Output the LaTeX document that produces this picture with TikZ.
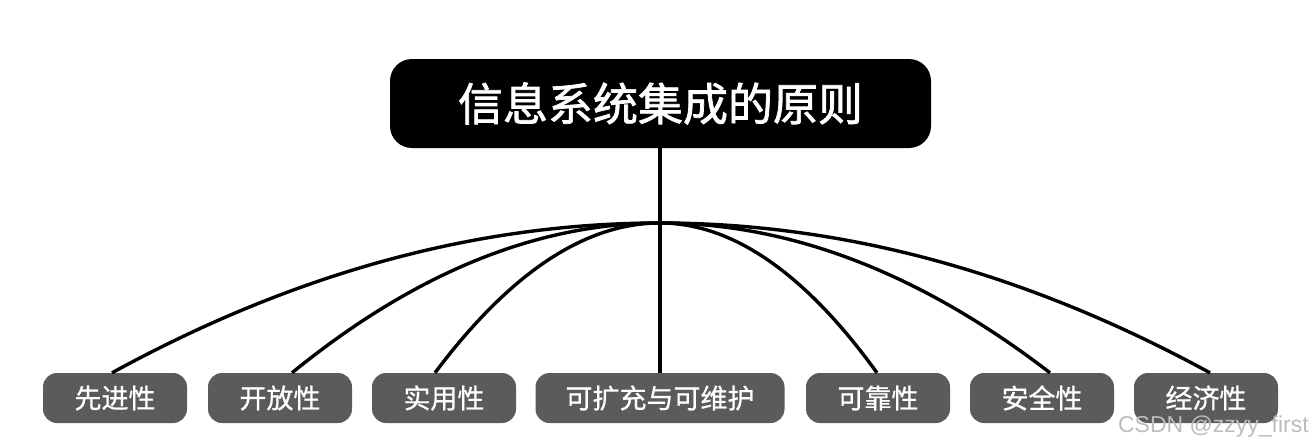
\documentclass[tikz,border=0pt]{standalone}
\usepackage{fontspec}
\newfontfamily\cjk{Noto Sans CJK SC}
\newfontfamily\cjktitle[FakeBold=1.6]{Noto Sans CJK SC}
\newfontfamily\cjkleaf[FakeBold=0.8]{Noto Sans CJK SC}
\setsansfont{Liberation Sans}
\usetikzlibrary{calc}
\definecolor{boxgray}{HTML}{5B5B5B}
\definecolor{wmgray}{HTML}{BDBDBD}
\tikzset{
  mainbox/.style={fill=black, rounded corners=22pt, minimum width=541pt, minimum height=89pt, inner sep=0pt, text=white, font=\cjktitle\fontsize{45}{48}\selectfont},
  leafbox/.style={fill=boxgray, rounded corners=14pt, minimum width=144pt, minimum height=50pt, inner sep=0pt, text=white, font=\cjkleaf\fontsize{27}{30}\selectfont},
  link/.style={line width=3.4pt, black},
}
\begin{document}
\begin{tikzpicture}[x=1pt,y=-1pt]
\useasboundingbox (0,0) rectangle (1314,447);
\fill[white] (0,0) rectangle (1314,447);
\node[mainbox] (main) at (660.5,103.5) {信息系统集成的原则};
\node[leafbox] (b1) at (115,398) {先进性};
\node[leafbox] (b2) at (280,398) {开放性};
\node[leafbox] (b3) at (444,398) {实用性};
\node[leafbox, minimum width=249pt] (b4) at (660,398) {\raisebox{1.5pt}{可扩充与可维护}};
\node[leafbox] (b5) at (878,398) {可靠性};
\node[leafbox] (b6) at (1042,398) {安全性};
\node[leafbox] (b7) at (1206,398) {经济性};
\coordinate (j) at (660,223);
\draw[link] (main.south -| j) -- (b4.north -| j);
\draw[link] (j) .. controls +(-182.7,0) and +(182.7,-100) .. ([xshift=-3pt]b1.north);
\draw[link] (j) .. controls +(-122.7,0) and +(122.7,-100) .. ([xshift=12pt]b2.north);
\draw[link] (j) .. controls +(-75,0) and +(75,-100) .. ([xshift=-9pt]b3.north);
\draw[link] (j) .. controls +(72.3,0) and +(-72.3,-100) .. ([xshift=-1pt]b5.north);
\draw[link] (j) .. controls +(130,0) and +(-130,-100) .. ([xshift=8pt]b6.north);
\draw[link] (j) .. controls +(183.3,0) and +(-183.3,-100) .. ([xshift=4pt]b7.north);
\node[anchor=east, inner sep=0pt, text=wmgray, font=\sffamily\fontsize{23}{26}\selectfont] (wm) at (1309,427) {CSDN @zzyy\_first};
\end{tikzpicture}
\end{document}
